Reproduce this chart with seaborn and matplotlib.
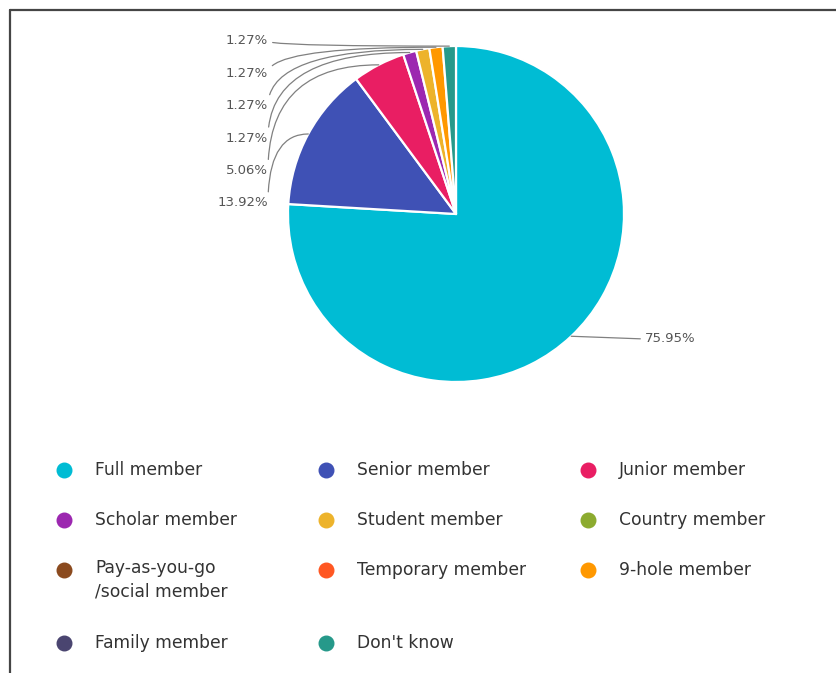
import matplotlib
matplotlib.use("Agg")
import matplotlib.pyplot as plt
import seaborn as sns
import numpy as np
from matplotlib.lines import Line2D

sns.set_style("white")
plt.rcParams["font.family"] = ["DejaVu Sans"]

W, H = 837, 673

categories = [
    "Full member", "Senior member", "Junior member",
    "Scholar member", "Student member", "Country member",
    "Pay-as-you-go\n/social member", "Temporary member", "9-hole member",
    "Family member", "Don't know",
]
shares = [75.95, 13.92, 5.06, 1.27, 1.27, 0.0, 0.0, 0.0, 1.27, 0.0, 1.27]
hex_colors = [
    "#00BCD4", "#3F51B5", "#E91E63",
    "#9C27B0", "#EDB32B", "#8CAB2F",
    "#8B4A1E", "#FF5722", "#FF9800",
    "#4A4570", "#26998A",
]
palette = sns.color_palette(hex_colors)

# layout (pixels, measured from top-left)
CX, CY, R = 456, 214, 168
LEFT_LABEL_X = 268
LEFT_LABEL_Y0, LEFT_LABEL_STEP = 203, 32.4
ROW_Y = [470, 520, 570, 643]
COL_X = [64, 326, 588]


def py(y):
    return H - y


fig = plt.figure(figsize=(W / 100, H / 100), dpi=100)
ax = fig.add_axes([0, 0, 1, 1])

# pie (only non-zero slices are drawn)
idx = [i for i, v in enumerate(shares) if v > 0]
vals = [shares[i] for i in idx]
cols = [palette[i] for i in idx]
wedges, _ = ax.pie(
    vals, colors=cols, startangle=90, counterclock=False,
    center=(CX, py(CY)), radius=R, frame=True,
    wedgeprops=dict(edgecolor="white", linewidth=1.6),
)

label_color = "#555555"
line_color = "#808080"
k = 0
for w, v in zip(wedges, vals):
    mid = np.deg2rad((w.theta1 + w.theta2) / 2)
    xy = (CX + R * np.cos(mid), py(CY) + R * np.sin(mid))
    txt = f"{v:.2f}%"
    if v > 50:
        ax.annotate(txt, xy=xy, xytext=(645, py(339)), ha="left", va="center",
                    fontsize=9.5, color=label_color,
                    arrowprops=dict(arrowstyle="-", color=line_color, lw=0.9,
                                    relpos=(0, 0.5), shrinkA=1, shrinkB=0))
    else:
        ly = LEFT_LABEL_Y0 - k * LEFT_LABEL_STEP
        k += 1
        ax.annotate(txt, xy=xy, xytext=(LEFT_LABEL_X, py(ly)), ha="right", va="center",
                    fontsize=9.5, color=label_color,
                    arrowprops=dict(arrowstyle="-", color=line_color, lw=0.9,
                                    relpos=(1, 0.5), shrinkA=1, shrinkB=0,
                                    connectionstyle="angle3,angleA=90,angleB=0"))

# legend laid out row by row
for i, (name, c) in enumerate(zip(categories, palette)):
    r, col = divmod(i, 3)
    y = py(ROW_Y[r])
    ax.scatter([COL_X[col]], [y], s=110, color=c, zorder=3)
    if "\n" in name:
        ax.text(COL_X[col] + 31, y + 11, name, ha="left", va="top",
                fontsize=12.3, color="#333333", linespacing=1.38)
    else:
        ax.text(COL_X[col] + 31, y, name, ha="left", va="center",
                fontsize=12.3, color="#333333")

ax.set_xlim(0, W)
ax.set_ylim(0, H)
ax.set_aspect("auto")
ax.axis("off")

# frame lines at top and left
fig.add_artist(Line2D([10 / W, 1], [1 - 10 / H, 1 - 10 / H], color="#454545", lw=1.6,
                      transform=fig.transFigure))
fig.add_artist(Line2D([10 / W, 10 / W], [0, 1 - 10 / H], color="#454545", lw=1.6,
                      transform=fig.transFigure))

fig.savefig("out.png", dpi=100, facecolor="white")
